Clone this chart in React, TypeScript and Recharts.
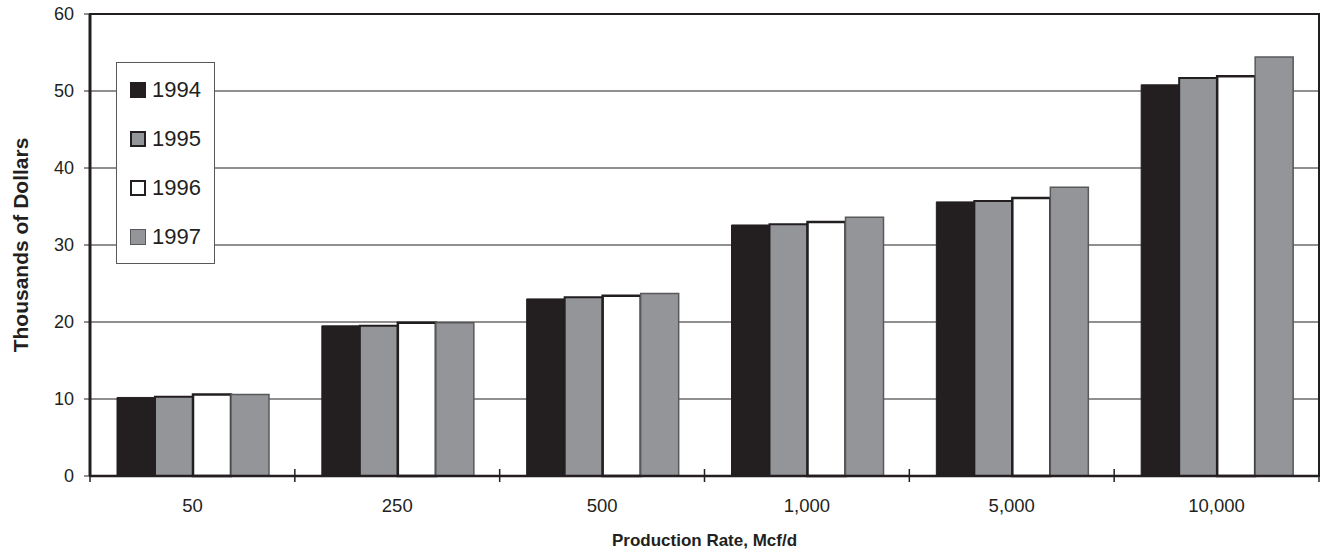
import React from 'react';
import {
   Bar,
   BarChart,
   CartesianGrid,
   Label,
   Legend,
   ReferenceArea,
   XAxis,
   YAxis,
} from 'recharts';

const rates = ['50', '250', '500', '1,000', '5,000', '10,000'];
const years = ['1994', '1995', '1996', '1997'];
const v1994 = [10.2, 19.5, 23.0, 32.6, 35.6, 50.8];
const v1995 = [10.3, 19.5, 23.2, 32.7, 35.7, 51.7];
const v1996 = [10.6, 19.9, 23.4, 33.0, 36.1, 51.9];
const v1997 = [10.6, 19.9, 23.7, 33.6, 37.5, 54.4];
const yTicks = [0, 10, 20, 30, 40, 50, 60];

const DARK = '#231f20';
const GRAY = '#939598';

const seriesStyle: Record<string, { fill: string; stroke: string; strokeWidth: number }> = {
   '1994': { fill: DARK, stroke: DARK, strokeWidth: 1 },
   '1995': { fill: GRAY, stroke: DARK, strokeWidth: 2 },
   '1996': { fill: '#ffffff', stroke: DARK, strokeWidth: 2.5 },
   '1997': { fill: GRAY, stroke: '#58595b', strokeWidth: 1.5 },
};

const data = rates.map((rate, i) => ({
   rate,
   '1994': v1994[i],
   '1995': v1995[i],
   '1996': v1996[i],
   '1997': v1997[i],
}));

const W = 1325;
const H = 554;
const margin = { top: 14, right: 6, bottom: 0, left: 0 };
const yAxisWidth = 90;
const band = (W - margin.left - margin.right - yAxisWidth) / rates.length;

const font = 'Arial, "Liberation Sans", sans-serif';

const XTick = (props: any) => {
   const { x, y, payload, index } = props;
   const left = x - band / 2;
   return (
      <g>
         <line x1={left} x2={left} y1={y - 7} y2={y + 6} stroke={DARK} strokeWidth={1.5} />
         {index === rates.length - 1 && (
            <line x1={x + band / 2} x2={x + band / 2} y1={y - 7} y2={y + 6} stroke={DARK} strokeWidth={1.5} />
         )}
         <text x={x} y={y + 36} textAnchor="middle" fontSize={18.5} fontFamily={font} fill={DARK}>
            {payload.value}
         </text>
      </g>
   );
};

const LegendBox = () => (
   <div
      style={{
         width: 99,
         height: 202,
         boxSizing: 'border-box',
         border: '1px solid #58595b',
         background: '#fff',
         paddingTop: 2,
      }}
   >
      {years.map((yr) => {
         const s = seriesStyle[yr];
         return (
            <div
               key={yr}
               style={{ display: 'flex', alignItems: 'center', height: 49, marginLeft: 13 }}
            >
               <span
                  style={{
                     display: 'inline-block',
                     width: 16,
                     height: 16,
                     boxSizing: 'border-box',
                     background: s.fill,
                     border: `${Math.min(s.strokeWidth, 2)}px solid ${s.stroke}`,
                     marginRight: 6,
                  }}
               />
               <span style={{ fontFamily: font, fontSize: 22, color: DARK, lineHeight: 1 }}>{yr}</span>
            </div>
         );
      })}
   </div>
);

const App: React.FC = () => {
   return (
      <div style={{ position: 'absolute', left: 0, top: 0, background: '#fff' }}>
         <BarChart
            width={W}
            height={H}
            data={data}
            margin={margin}
            barCategoryGap={27}
            barGap={0}
         >
            <CartesianGrid vertical={false} stroke={DARK} strokeWidth={1} />
            <XAxis
               dataKey="rate"
               height={78}
               tickLine={false}
               tickSize={0}
               tickMargin={0}
               axisLine={{ stroke: DARK, strokeWidth: 2.5 }}
               tick={<XTick />}
               interval={0}
            >
               <Label
                  value="Production Rate, Mcf/d"
                  position="insideBottom"
                  offset={8}
                  style={{ fontFamily: font, fontSize: 17, fontWeight: 'bold', fill: DARK }}
               />
            </XAxis>
            <YAxis
               width={yAxisWidth}
               domain={[0, 60]}
               ticks={yTicks}
               interval={0}
               tickSize={6}
               tickMargin={10}
               tickLine={{ stroke: DARK }}
               axisLine={{ stroke: DARK, strokeWidth: 3 }}
               tick={{ fontFamily: font, fontSize: 18, fill: DARK }}
            >
               <Label
                  content={(p: any) => {
                     const vb = p.viewBox;
                     const cx = 28;
                     const cy = vb.y + vb.height / 2;
                     return (
                        <text
                           x={cx}
                           y={cy}
                           transform={`rotate(-90, ${cx}, ${cy})`}
                           textAnchor="middle"
                           fontFamily={font}
                           fontSize={21}
                           fontWeight="bold"
                           fill={DARK}
                        >
                           Thousands of Dollars
                        </text>
                     );
                  }}
               />
            </YAxis>
            <ReferenceArea y1={0} y2={60} fill="none" stroke={DARK} strokeWidth={2} />
            <Legend
               layout="horizontal"
               verticalAlign="middle"
               align="center"
               content={<LegendBox />}
               wrapperStyle={{ position: 'absolute', left: 116, top: 62, width: 99, height: 202 }}
            />
            {years.map((yr) => (
               <Bar
                  key={yr}
                  dataKey={yr}
                  fill={seriesStyle[yr].fill}
                  stroke={seriesStyle[yr].stroke}
                  strokeWidth={seriesStyle[yr].strokeWidth}
                  isAnimationActive={false}
               />
            ))}
         </BarChart>
      </div>
   );
};

export default App;
